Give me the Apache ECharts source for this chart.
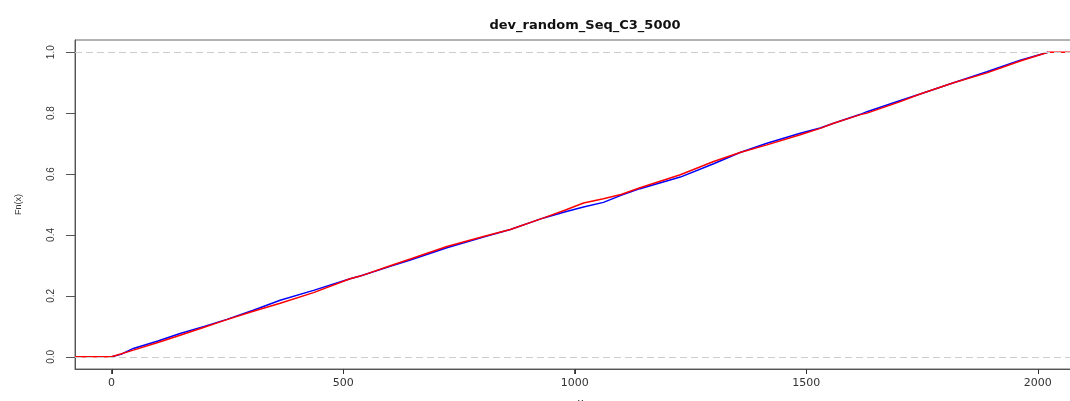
<!DOCTYPE html>
<html>
<head>
<meta charset="utf-8">
<script src="https://cdn.jsdelivr.net/npm/echarts@6/dist/echarts.min.js"></script>
<style>
html,body{margin:0;padding:0;background:#fff;}
#chart{width:1070px;height:401px;}
</style>
</head>
<body>
<div id="chart"></div>
<script>
var titleText = "dev_random_Seq_C3_5000";
var xTicks = [0, 500, 1000, 1500, 2000];
var yTicks = [0, 0.2, 0.4, 0.6, 0.8, 1.0];
var xMin = -79, xMax = 2104;
var yMin = -0.04, yMax = 1.04;

var blueX = [0, 20, 47, 100, 148, 200, 249, 306, 364, 436, 515, 537, 600, 645, 724, 803, 861, 933, 980, 1019, 1062, 1100, 1141, 1228, 1300, 1357, 1415, 1487, 1530, 1559, 1617, 1631, 1700, 1746, 1818, 1890, 1962, 2022];
var blueY = [0, 0.008, 0.0275, 0.052, 0.0765, 0.100, 0.123, 0.153, 0.1855, 0.218, 0.2565, 0.265, 0.296, 0.318, 0.358, 0.393, 0.418, 0.456, 0.476, 0.492, 0.507, 0.530, 0.552, 0.590, 0.6336, 0.6706, 0.7013, 0.734, 0.751, 0.7668, 0.796, 0.8047, 0.840, 0.8626, 0.8996, 0.9356, 0.9738, 1];

var redX = [0, 47, 100, 148, 200, 249, 306, 364, 436, 515, 537, 600, 645, 724, 803, 861, 933, 980, 1019, 1062, 1100, 1141, 1228, 1300, 1357, 1415, 1487, 1530, 1559, 1617, 1631, 1700, 1746, 1818, 1890, 1962, 2022];
var redY = [0, 0.022, 0.047, 0.071, 0.097, 0.122, 0.1495, 0.1757, 0.2107, 0.2565, 0.265, 0.298, 0.321, 0.362, 0.395, 0.418, 0.456, 0.482, 0.505, 0.519, 0.533, 0.555, 0.5977, 0.641, 0.6706, 0.6958, 0.729, 0.750, 0.7668, 0.795, 0.800, 0.836, 0.8626, 0.8996, 0.932, 0.971, 1];

function pairs(xs, ys, ext) {
  var out = ext ? [[xMin, 0]] : [];
  for (var i = 0; i < xs.length; i++) out.push([xs[i], ys[i]]);
  if (ext) out.push([xMax, 1]);
  return out;
}

var chart = echarts.init(document.getElementById('chart'), null, {renderer: 'canvas'});
chart.setOption({
  animation: false,
  title: {
    text: titleText,
    left: 580, top: 14, textAlign: 'center',
    textStyle: {fontFamily: 'DejaVu Sans', fontWeight: 'bold', fontSize: 13, color: '#111'}
  },
  grid: {left: 75, top: 40, right: -16, bottom: 32, outerBoundsMode: 'none',
    show: true, borderColor: '#666', borderWidth: 1},
  xAxis: {
    type: 'value', min: xMin, max: xMax,
    name: 'x', nameLocation: 'middle', nameGap: 29,
    nameTextStyle: {fontFamily: 'DejaVu Sans', fontSize: 11, color: '#333'},
    axisLine: {show: true, onZero: false, lineStyle: {color: '#555'}},
    splitLine: {show: false},
    axisTick: {show: true, length: 5, customValues: xTicks},
    axisLabel: {customValues: xTicks, margin: 9, fontFamily: 'DejaVu Sans', fontSize: 11, color: '#333',
      formatter: function (v) { return String(v); }}
  },
  yAxis: {
    type: 'value', min: yMin, max: yMax,
    name: 'Fn(x)', nameLocation: 'middle', nameGap: 52, nameRotate: 90,
    nameTextStyle: {fontFamily: 'Liberation Sans', fontSize: 9, color: '#333'},
    axisLine: {show: true, onZero: false, lineStyle: {color: '#555'}},
    splitLine: {show: false},
    axisTick: {show: true, length: 9, customValues: yTicks},
    axisLabel: {customValues: yTicks, rotate: 90, margin: 19, fontFamily: 'Liberation Sans', fontSize: 10, color: '#333',
      formatter: function (v) { return v.toFixed(1); }}
  },
  series: [
    {
      type: 'line', name: 'blue', data: pairs(blueX, blueY, false), showSymbol: false, symbol: 'none',
      lineStyle: {color: '#0000ff', width: 1.5}, z: 2
    },
    {
      type: 'line', name: 'red', data: pairs(redX, redY, true), showSymbol: false, symbol: 'none',
      lineStyle: {color: '#ff0000', width: 1.5}, z: 3
    },
    {
      type: 'line', name: 'ref', data: [], z: 4,
      markLine: {
        silent: true, symbol: 'none', label: {show: false},
        lineStyle: {color: '#cccccc', type: [7, 4], width: 1},
        data: [{yAxis: 0}, {yAxis: 1}]
      }
    }
  ]
});

// Tick marks placed through the chart's own scales (convertToPixel).
var tickEls = [];
var axisYpx = chart.convertToPixel({yAxisIndex: 0}, yMin);
var axisXpx = chart.convertToPixel({xAxisIndex: 0}, xMin);
xTicks.forEach(function (v) {
  var px = Math.round(chart.convertToPixel({xAxisIndex: 0}, v)) + 0.5;
  tickEls.push({type: 'line', z: 100, silent: true,
    shape: {x1: px, y1: axisYpx, x2: px, y2: axisYpx + 5},
    style: {stroke: '#333', lineWidth: 1}});
});
yTicks.forEach(function (v) {
  var py = Math.round(chart.convertToPixel({yAxisIndex: 0}, v)) + 0.5;
  tickEls.push({type: 'line', z: 100, silent: true,
    shape: {x1: axisXpx - 9, y1: py, x2: axisXpx, y2: py},
    style: {stroke: '#555', lineWidth: 1}});
});
chart.setOption({graphic: tickEls});
</script>
</body>
</html>
